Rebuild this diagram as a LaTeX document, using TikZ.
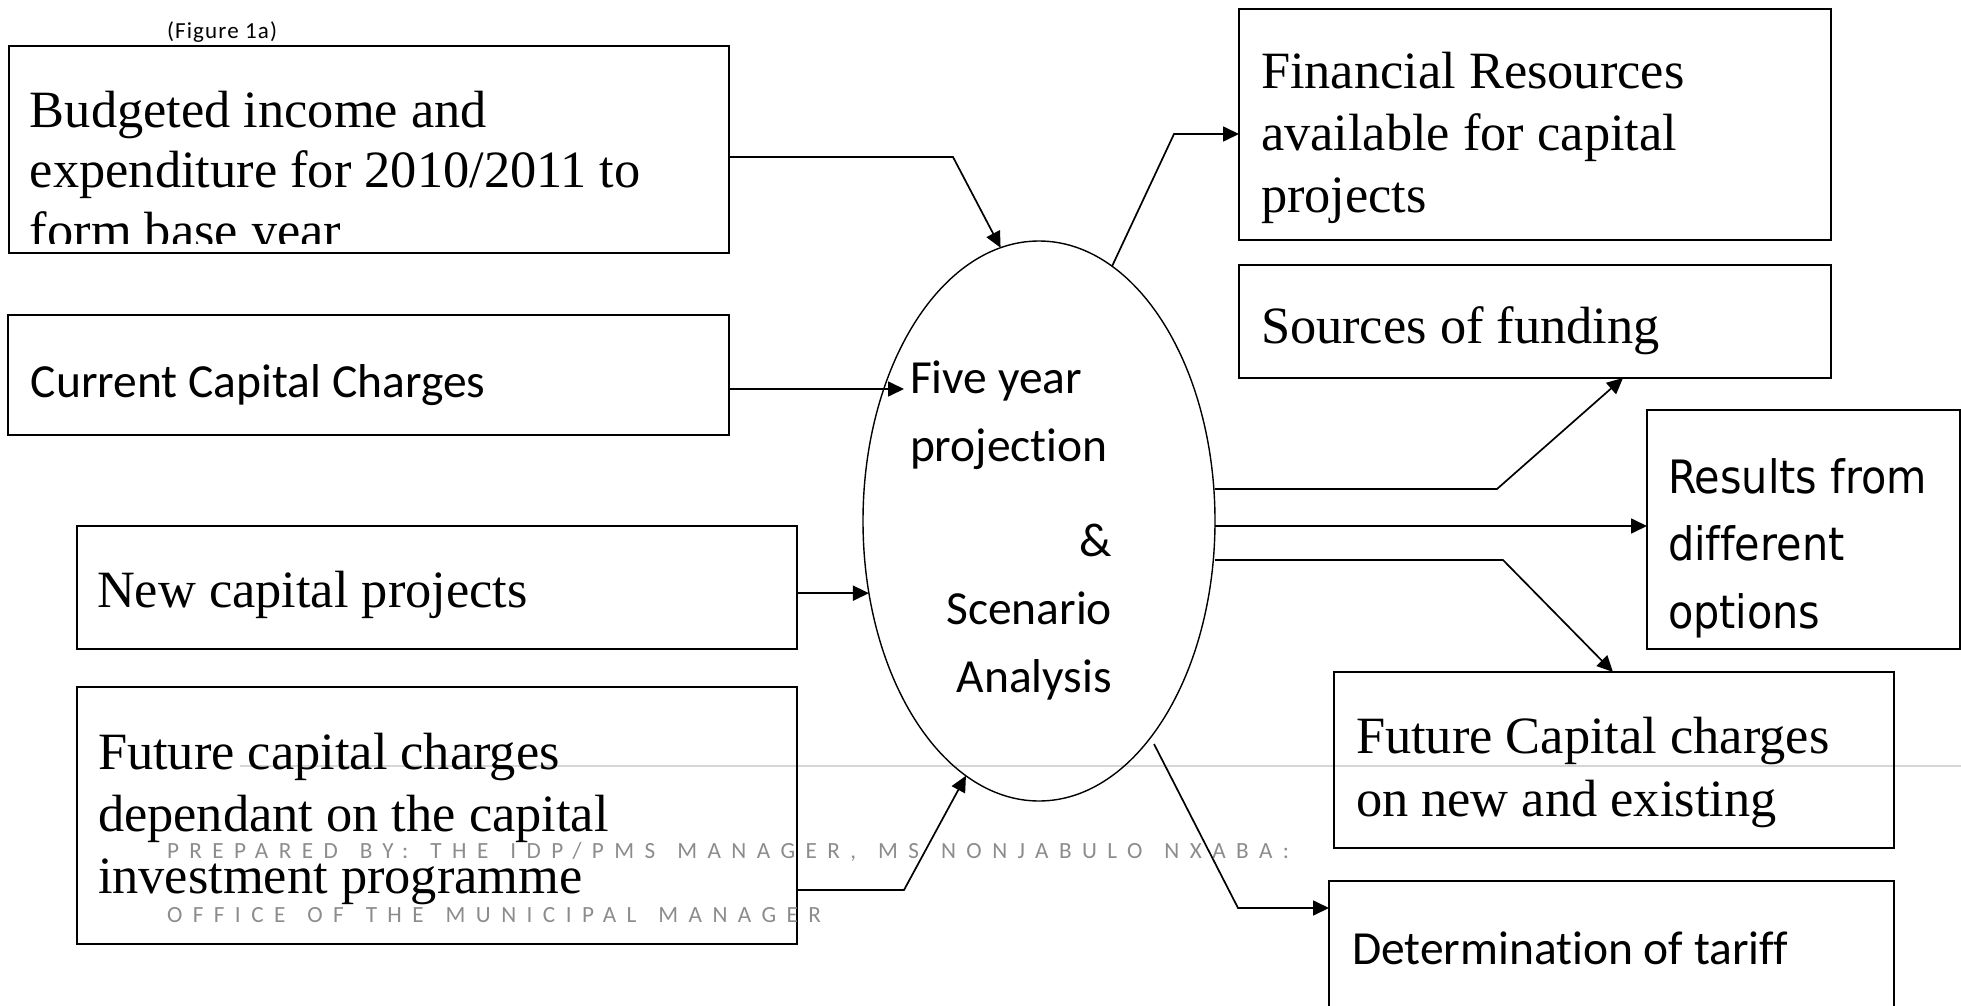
\documentclass[tikz,border=0pt]{standalone}
\usepackage{fontspec}
\setmainfont{Liberation Serif}
\newfontfamily\calib[Ligatures=NoCommon]{Carlito}
\newfontfamily\tahom[FakeStretch=0.9,Ligatures=NoCommon]{DejaVu Sans}
\newfontfamily\footf[LetterSpace=45,WordSpace=1.4]{Carlito}
\newfontfamily\figf[LetterSpace=5]{Carlito}
\usetikzlibrary{arrows.meta,shapes.geometric}
\definecolor{footgray}{RGB}{140,140,140}
\definecolor{linegray}{RGB}{214,214,214}
\newcommand\Lft[1]{\begin{tabular}[t]{@{}l@{}}#1\end{tabular}}
\newcommand\Rgt[1]{\begin{tabular}[t]{@{}r@{}}#1\end{tabular}}
\begin{document}
\begin{tikzpicture}[x=0.5pt,y=-0.5pt,
  boxnode/.style={draw=black, line width=1pt, rectangle, inner sep=0pt, outer sep=0pt},
  txt/.style={inner sep=0pt, outer sep=0pt, anchor=base west},
  serif/.style={font=\fontsize{26.2}{31}\selectfont},
  cal/.style={font=\calib\fontsize{23.75}{34}\selectfont},
  conn/.style={line width=0.85pt, -{Triangle[length=8pt,width=7.5pt]}}]
\useasboundingbox (0,0) rectangle (1961,1006);
\clip (0,0) rectangle (1961,1006);
% footer rule
\draw[linegray, line width=0.6pt] (240,766) -- (1961,766);
% boxes
\node[boxnode, minimum width=360pt, minimum height=103.5pt] (b1) at (369,149.5) {};
\node[boxnode, minimum width=360.5pt, minimum height=60pt] (cur) at (368.5,375) {};
\node[boxnode, minimum width=360pt, minimum height=61.5pt] (nw) at (437,587.5) {};
\node[boxnode, minimum width=360pt, minimum height=128.5pt] (fl) at (437,815.5) {};
\node[boxnode, minimum width=296pt, minimum height=115.5pt] (fin) at (1535,124.5) {};
\node[boxnode, minimum width=296pt, minimum height=56.5pt] (src) at (1535,321.5) {};
\node[boxnode, minimum width=156.5pt, minimum height=119.5pt] (res) at (1803.5,529.5) {};
\node[boxnode, minimum width=280pt, minimum height=88pt] (fcr) at (1614,760) {};
\node[boxnode, minimum width=282.5pt, minimum height=79.5pt] (det) at (1611.5,960.5) {};
\node[draw=black, ellipse, line width=0.7pt, minimum width=176pt, minimum height=280pt, inner sep=0pt, outer sep=0pt] (ell) at (1039,521) {};
% texts
\node[txt, font=\figf\fontsize{11.5}{14}\selectfont] (fig) at (167,39) {(Figure 1a)};
\begin{scope}
\clip (9,46) rectangle (729,243);
\node[txt, font=\fontsize{26.2}{30.5}\selectfont] (tb1) at (30,127) {\Lft{Budgeted income and\\expenditure for 2010/2011 to\\form base year}};
\end{scope}
\node[txt, cal] (tcur) at (31,397) {Current Capital Charges};
\node[txt, serif] (tnw) at (97,607) {New capital projects};
\node[txt, serif] (tfl) at (98,769) {\Lft{Future capital charges\\dependant on the capital\\investment programme}};
\node[txt, serif] (tfin) at (1261,89) {\Lft{Financial Resources\\available for capital\\projects}};
\node[txt, serif] (tsrc) at (1261,343) {Sources of funding};
\node[txt, font=\tahom\fontsize{23}{33.75}\selectfont] (tres) at (1668,493) {\Lft{Results from\\different\\options}};
\node[txt, font=\fontsize{26.2}{31.5}\selectfont] (tfcr) at (1356,753) {\Lft{Future Capital charges\\on new and existing}};
\node[txt, cal] (tdet) at (1352,964) {Determination of tariff};
\node[txt, cal] (tfy) at (910,393) {\Lft{Five year\\projection}};
\node[txt, cal, anchor=base east] (tsa) at (1112,556) {\Rgt{\&\\Scenario\\Analysis}};
% footer
\node[txt, font=\footf\fontsize{11.6}{14}\selectfont, text=footgray] (f1) at (167,858) {PREPARED BY: THE IDP/PMS MANAGER, MS NONJABULO NXABA:};
\node[txt, font=\footf\fontsize{11.6}{14}\selectfont, text=footgray] (f2) at (167,922) {OFFICE OF THE MUNICIPAL MANAGER};
% connectors
\coordinate (t2) at (904,389);
\coordinate (s9) at (1154,744);
\draw[conn] (b1.east |- 0,157) -- (953,157) -- (ell.98);
\draw[conn] (cur.east |- 0,389) -- (t2);
\draw[conn] (nw.east |- ell.203.5) -- (ell.203.5);
\draw[conn] (fl.east |- 0,890) -- (904,890) -- (ell.254.7);
\draw[conn] (ell.74.1) -- (1174,134) -- (fin.west |- 0,134);
\draw[conn] (ell.east |- 0,489) -- (1497,489) -- (src.south -| 1623,0);
\draw[conn] (ell.east |- 0,526) -- (res.west |- 0,526);
\draw[conn] (ell.east |- 0,560) -- (1503,560) -- (fcr.north -| 1613,0);
\draw[conn] (s9) -- (1238,908) -- (det.west |- 0,908);
\end{tikzpicture}
\end{document}
